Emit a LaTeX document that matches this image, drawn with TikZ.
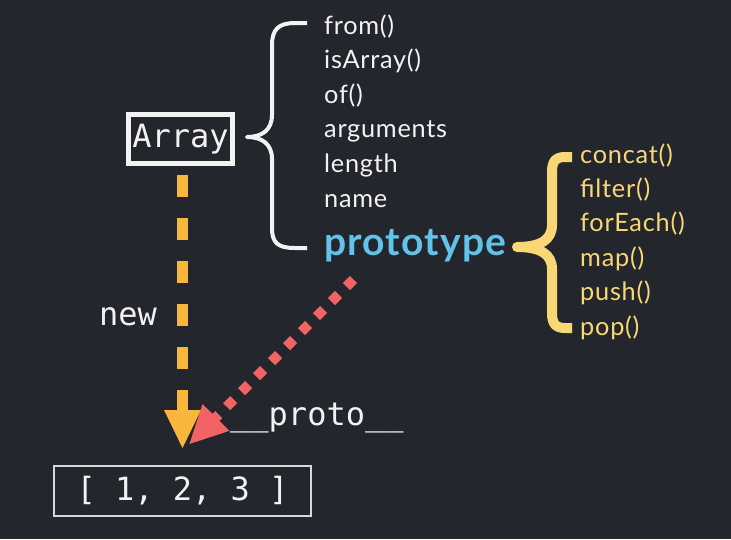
\documentclass[tikz,border=0pt]{standalone}
\usepackage{fontspec}
\setmainfont{Lato}
\newfontfamily\itemfont{Lato}[LetterSpace=3]
\newfontfamily\protofont{Lato}[LetterSpace=3]
\newfontfamily\codefont{DejaVu Sans Mono}
\usetikzlibrary{arrows.meta,calc}
\definecolor{bg}{HTML}{24262E}
\definecolor{txt}{HTML}{F2F2F2}
\definecolor{pblue}{HTML}{62C3EA}
\definecolor{pyellow}{HTML}{F8D774}
\definecolor{porange}{HTML}{F6B73C}
\definecolor{pred}{HTML}{F26464}
\definecolor{pgray}{HTML}{D8D8D8}
\tikzset{
  code/.style={font=\codefont\fontsize{32}{36}\selectfont, text=txt, inner sep=0pt},
  arrbox/.style={code, draw=txt, line width=5pt, minimum width=104pt, minimum height=49pt},
  lstbox/.style={code, draw=pgray, line width=2pt, minimum width=257pt, minimum height=50pt},
  item/.style={font=\itemfont\fontsize{25.3}{28}\selectfont, text=txt, inner sep=0pt, anchor=base west},
  yitem/.style={item, text=pyellow},
  protostyle/.style={font=\protofont\bfseries\fontsize{39}{42}\selectfont, text=pblue, inner sep=0pt, anchor=base west},
  brace/.style={line cap=butt, line join=round},
  newarrow/.style={draw=porange, line width=11pt, dash pattern=on 22pt off 21pt,
    -{Triangle[width=37pt,length=38pt,line width=0pt]}},
  protoarrow/.style={draw=pred, line width=10pt, dash pattern=on 10pt off 11.2pt,
    -{Triangle[width=38pt,length=37.5pt,line width=0pt]}},
}
\begin{document}
\begin{tikzpicture}[x=1pt,y=-1pt]
\fill[bg] (0,0) rectangle (731,539);
\useasboundingbox (0,0) rectangle (731,539);

% Array box
\node[arrbox] (arr) at (180.5,139) {Array};

% white brace
\draw[brace, txt, line width=4pt]
  (307,23) -- (295,23) .. controls (278,23) and (272,30) .. (272,45)
  -- (272,115) .. controls (272,130) and (262,137) .. (247,137)
  .. controls (262,137) and (272,144) .. (272,159)
  -- (272,228) .. controls (272,243) and (278,248) .. (295,248) -- (307,248);

% static members
\node[item] (from) at (324,34) {from()};
\node[item] (isarr) at (324,68.6) {isArray()};
\node[item] (of) at (324,103.2) {of()};
\node[item] (args) at (324,137.8) {arguments};
\node[item] (len) at (324,172.4) {length};
\node[item] (name) at (324,207) {name};
\node[protostyle] (proto) at (324,255) {prototype};

% yellow brace
\draw[brace, pyellow, line width=10pt]
  (572,157) -- (565,157) .. controls (555,157) and (552,162) .. (552,172)
  -- (552,225) .. controls (552,240) and (540,247) .. (517,247)
  .. controls (540,247) and (552,254) .. (552,269)
  -- (552,313) .. controls (552,323) and (555,328) .. (565,328) -- (572,328);

% prototype members
\node[yitem] (concat) at (580,163) {concat()};
\node[yitem] (filter) at (580,197.4) {filter()};
\node[yitem] (foreach) at (580,231.8) {forEach()};
\node[yitem] (map) at (580,266.2) {map()};
\node[yitem] (push) at (580,300.6) {push()};
\node[yitem] (pop) at (580,335) {pop()};

% instance
\node[lstbox] (lst) at (182.5,491) {[ 1, 2, 3 ]};

% new arrow
\draw[newarrow, shorten <=9pt, shorten >=17pt] (lst.north |- arr.south) -- (lst.north);
\node[code, anchor=base east] (newlbl) at (157,325) {new};

% __proto__ arrow
\coordinate (pstart) at (353.5,279.5);
\draw[protoarrow, shorten >=29.7pt] (pstart) -- ([xshift=-14pt]lst.north);
\node[code, anchor=base west] (protolbl) at (230,425) {\_\_proto\_\_};
\end{tikzpicture}
\end{document}
